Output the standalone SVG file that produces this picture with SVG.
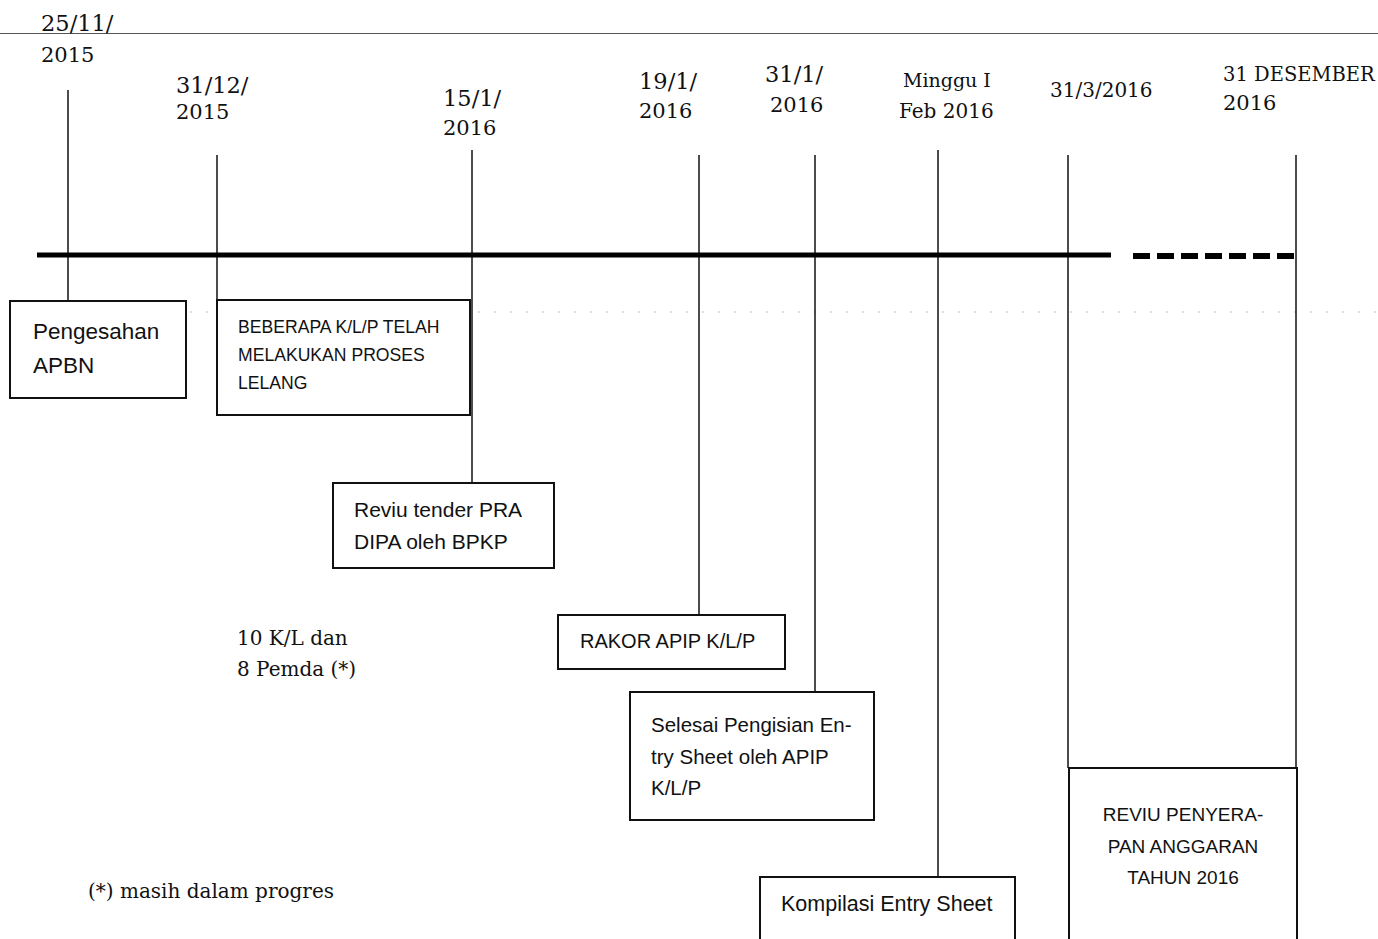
<svg xmlns="http://www.w3.org/2000/svg" width="1378" height="939" viewBox="0 0 1378 939">
<style>
.date{font-family:"DejaVu Serif","Liberation Serif",serif;font-size:21px;fill:#111}
.note{font-family:"DejaVu Serif","Liberation Serif",serif;font-size:20px;fill:#111}
.lbl{font-family:"Liberation Sans","Open Sans",sans-serif;font-size:20px;fill:#111}
.box{fill:#fff;stroke:#111;stroke-width:2}
.tick{stroke:#111;stroke-width:1.5;fill:none}
</style>
<rect width="1378" height="939" fill="#fff"/>
<line x1="0" y1="33.5" x2="1378" y2="33.5" stroke="#555" stroke-width="1.2"/>
<line x1="190" y1="312" x2="1378" y2="312" stroke="#bbb" stroke-width="1" stroke-dasharray="2 14"/>

<g id="connectors">
<line class="tick" x1="68" y1="90" x2="68" y2="301"/>
<line class="tick" x1="217" y1="155" x2="217" y2="300"/>
<line class="tick" x1="472" y1="150" x2="472" y2="483"/>
<line class="tick" x1="699" y1="155" x2="699" y2="615"/>
<line class="tick" x1="815" y1="155" x2="815" y2="692"/>
<line class="tick" x1="938" y1="150" x2="938" y2="877"/>
<line class="tick" x1="1068" y1="155" x2="1068" y2="768"/>
<line class="tick" x1="1296" y1="155" x2="1296" y2="768"/>
<line x1="37" y1="255" x2="1111" y2="255" stroke="#000" stroke-width="5"/>
<line x1="1133" y1="256" x2="1296" y2="256" stroke="#000" stroke-width="6" stroke-dasharray="17 7"/>
</g>

<g id="dates">
<text class="date" x="41" y="31" style="font-size:22.5px">25/11/</text>
<text class="date" x="41" y="62">2015</text>
<text class="date" x="176" y="93" style="font-size:22.5px">31/12/</text>
<text class="date" x="176" y="119">2015</text>
<text class="date" x="443" y="106" style="font-size:22.5px">15/1/</text>
<text class="date" x="443" y="135">2016</text>
<text class="date" x="639" y="89" style="font-size:22.5px">19/1/</text>
<text class="date" x="639" y="118">2016</text>
<text class="date" x="765" y="82" style="font-size:22.5px">31/1/</text>
<text class="date" x="770" y="112">2016</text>
<text class="date" x="903" y="87" style="font-size:19px">Minggu I</text>
<text class="date" x="899" y="118" style="font-size:20px">Feb 2016</text>
<text class="date" x="1050" y="97" style="font-size:20px">31/3/2016</text>
<text class="date" x="1223" y="81" style="font-size:19.5px">31 DESEMBER</text>
<text class="date" x="1223" y="110">2016</text>
</g>

<g id="n-pengesahan">
<rect class="box" x="10" y="301" width="176" height="97"/>
<text class="lbl" x="33" y="339" style="font-size:22.5px">Pengesahan</text>
<text class="lbl" x="33" y="373" style="font-size:22.5px">APBN</text>
</g>

<g id="n-beberapa">
<rect class="box" x="217" y="300" width="253" height="115"/>
<text class="lbl" x="238" y="333" style="font-size:17.6px">BEBERAPA K/L/P TELAH</text>
<text class="lbl" x="238" y="361" style="font-size:17.6px">MELAKUKAN PROSES</text>
<text class="lbl" x="238" y="389" style="font-size:17.6px">LELANG</text>
</g>

<g id="n-reviu-tender">
<rect class="box" x="333" y="483" width="221" height="85"/>
<text class="lbl" x="354" y="517" style="font-size:21px">Reviu tender PRA</text>
<text class="lbl" x="354" y="549" style="font-size:21px">DIPA oleh BPKP</text>
</g>

<g id="n-rakor">
<rect class="box" x="558" y="615" width="227" height="54"/>
<text class="lbl" x="580" y="648">RAKOR APIP K/L/P</text>
</g>

<g id="n-selesai">
<rect class="box" x="630" y="692" width="244" height="128"/>
<text class="lbl" x="651" y="732" style="font-size:20.5px">Selesai Pengisian En-</text>
<text class="lbl" x="651" y="764" style="font-size:20.5px">try Sheet oleh APIP</text>
<text class="lbl" x="651" y="795" style="font-size:20.5px">K/L/P</text>
</g>

<g id="n-kompilasi">
<rect class="box" x="760" y="877" width="255" height="80"/>
<text class="lbl" x="781" y="911" style="font-size:21.5px">Kompilasi Entry Sheet</text>
</g>

<g id="n-reviu-penyerapan">
<rect class="box" x="1069" y="768" width="228" height="190"/>
<text class="lbl" x="1183" y="821" text-anchor="middle" style="font-size:19px">REVIU PENYERA-</text>
<text class="lbl" x="1183" y="853" text-anchor="middle" style="font-size:19px">PAN ANGGARAN</text>
<text class="lbl" x="1183" y="884" text-anchor="middle" style="font-size:19px">TAHUN 2016</text>
</g>

<g id="notes">
<text class="note" x="237" y="645">10 K/L dan</text>
<text class="note" x="237" y="676">8 Pemda (*)</text>
<text class="note" x="88" y="898">(*) masih dalam progres</text>
</g>
</svg>
